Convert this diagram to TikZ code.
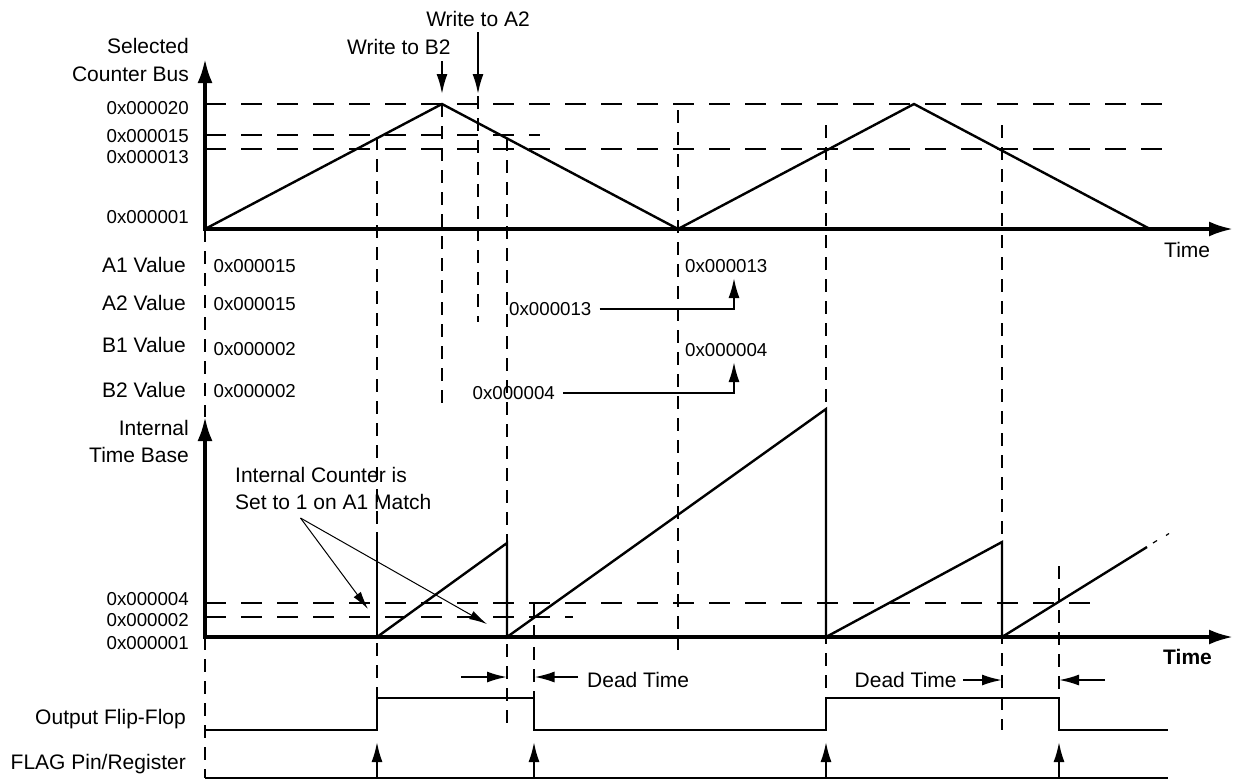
\documentclass[tikz,border=0pt]{standalone}
\usepackage{fontspec}
\setmainfont{Liberation Sans}
\usetikzlibrary{arrows.meta}
\begin{document}
\begin{tikzpicture}[x=1pt,y=-1pt,
  axisln/.style={line width=3.4pt,{Latex[length=24pt,width=15pt]}-{Latex[length=24pt,width=15pt]}},
  axisup/.style={line width=3.4pt,-{Latex[length=24pt,width=15pt]}},
  wave/.style={line width=2.4pt,line join=miter},
  sig/.style={line width=2.2pt,line join=miter},
  hdash/.style={line width=2pt,dash pattern=on 21pt off 15pt},
  vdash/.style={line width=2pt,dash pattern=on 13pt off 9pt},
  lbl/.style={font=\fontsize{21}{25}\selectfont,inner sep=0pt},
  val/.style={font=\fontsize{18.7}{22}\selectfont,inner sep=0pt},
  sarrow/.style={line width=2pt,-{Latex[length=20pt,width=11pt]}},
  tarrow/.style={line width=1pt,-{Latex[length=18pt,width=9pt]}}]
\useasboundingbox (0,0) rectangle (1238,780);

% ---------- dashed guide lines ----------
\draw[hdash] (205,104) -- (1170,104);
\draw[hdash] (205,135) -- (540,135);
\draw[hdash] (205,148.7) -- (1170,148.7);
\draw[hdash] (205,602.7) -- (1097,602.7);
\draw[hdash] (205,616.7) -- (573,616.7);

\draw[vdash] (205,229) -- (205,417);
\draw[vdash] (205,637) -- (205,778);
\draw[vdash] (377,137) -- (377,698);
\draw[vdash] (442,104) -- (442,408);
\draw[vdash] (478,96) -- (478,322);
\draw[vdash] (507,138) -- (507,730);
\draw[vdash] (534,603) -- (534,698);
\draw[vdash] (678,110) -- (678,650);
\draw[vdash] (826,125) -- (826,698);
\draw[vdash] (1002,125) -- (1002,730);
\draw[vdash] (1059,566) -- (1059,698);

% ---------- top graph ----------
\coordinate (O1) at (205,229);
\coordinate (Y1) at (205,59);
\coordinate (X1) at (1233,229);
\draw[axisln] (Y1) -- (O1) -- (X1);
\draw[wave] (O1) -- (442,104) -- (678,229) -- (914,104) -- (1150,229);

\node[lbl,anchor=base east] (selA) at (189,53.5) {Selected};
\node[lbl,anchor=base east] (selB) at (189,81) {Counter Bus};
\node[val,anchor=base east] (h20) at (189,114.5) {0x000020};
\node[val,anchor=base east] (h15) at (189,142.5) {0x000015};
\node[val,anchor=base east] (h13) at (189,163.5) {0x000013};
\node[val,anchor=base east] (h01) at (189,223.5) {0x000001};
\node[lbl,anchor=base west] (t1) at (1164,257.5) {Time};

\node[lbl,anchor=base] (wa2) at (478,26) {Write to A2};
\node[lbl,anchor=base west] (wb2) at (347,54) {Write to B2};
\coordinate (wa2s) at (478,32);
\coordinate (wa2t) at (478,94);
\coordinate (wb2s) at (442,61);
\coordinate (wb2t) at (442,94);
\draw[sarrow] (wa2s) -- (wa2t);
\draw[sarrow] (wb2s) -- (wb2t);

% ---------- register rows ----------
\node[lbl,anchor=base east] (ra1) at (186,272.5) {A1 Value};
\node[lbl,anchor=base east] (ra2) at (186,310.5) {A2 Value};
\node[lbl,anchor=base east] (rb1) at (186,352.5) {B1 Value};
\node[lbl,anchor=base east] (rb2) at (186,397.5) {B2 Value};
\node[val,anchor=base west] (va1) at (213.5,272.5) {0x000015};
\node[val,anchor=base west] (va2) at (213.5,310.5) {0x000015};
\node[val,anchor=base west] (vb1) at (213.5,355.5) {0x000002};
\node[val,anchor=base west] (vb2) at (213.5,397.5) {0x000002};
\node[val,anchor=base west] (na1) at (685,272.5) {0x000013};
\node[val,anchor=base west] (nb1) at (685,356.5) {0x000004};
\node[val,anchor=base west] (wa2v) at (509,315.5) {0x000013};
\node[val,anchor=base west] (wb2v) at (472.5,399.5) {0x000004};
\coordinate (a13) at (734,278);
\coordinate (a04) at (734,362);
\draw[sarrow] ([xshift=8pt]wa2v.east) -| (a13);
\draw[sarrow] ([xshift=8pt]wb2v.east) -| (a04);

% ---------- internal time base ----------
\coordinate (O2) at (205,637);
\coordinate (Y2) at (205,417);
\coordinate (X2) at (1233,637);
\draw[axisln] (Y2) -- (O2) -- (X2);
\draw[wave] (377,532) -- (377,637);
\draw[wave] (377,637) -- (507,543) -- (507,637) -- (826,409) -- (826,637)
  -- (1002,542) -- (1002,637) -- (1147,547);
\draw[line width=1.2pt] (1153,543) -- (1157,540.5) (1166,535.5) -- (1169,533.5);

\node[lbl,anchor=base east] (itb1) at (189,435.5) {Internal};
\node[lbl,anchor=base east] (itb2) at (189,462.5) {Time Base};
\node[val,anchor=base east] (i04) at (189,605.5) {0x000004};
\node[val,anchor=base east] (i02) at (189,626.5) {0x000002};
\node[val,anchor=base east] (i01) at (189,649.5) {0x000001};
\node[lbl,anchor=base west,font={\fontsize{21}{25}\selectfont\bfseries}] (t2) at (1163,664.5) {Time};

\node[lbl,anchor=base west] (ann1) at (235,482.5) {Internal Counter is};
\node[lbl,anchor=base west] (ann2) at (235,509.5) {Set to 1 on A1 Match};
\coordinate (annP) at (300.5,518);
\coordinate (annT1) at (368,609);
\coordinate (annT2) at (487,624);
\draw[tarrow] (annP) -- (annT1);
\draw[tarrow] (annP) -- (annT2);

% ---------- dead time ----------
\node[lbl,anchor=base west] (dt1) at (587,687.5) {Dead Time};
\node[lbl,anchor=base west] (dt2) at (854.5,687.5) {Dead Time};
\coordinate (d1s) at (461,677);  \coordinate (d1t) at (507,677);
\coordinate (d2s) at (578,677);  \coordinate (d2t) at (534.5,677);
\coordinate (d3s) at (963,680);  \coordinate (d3t) at (1002,680);
\coordinate (d4s) at (1105,680); \coordinate (d4t) at (1059,680);
\draw[sarrow] (d1s) -- (d1t);
\draw[sarrow] (d2s) -- (d2t);
\draw[sarrow] (d3s) -- (d3t);
\draw[sarrow] (d4s) -- (d4t);

% ---------- output flip-flop & flag ----------
\node[lbl,anchor=base east] (off) at (186,724.5) {Output Flip-Flop};
\node[lbl,anchor=base east] (flg) at (186,769.5) {FLAG Pin/Register};
\draw[sig] (205,730) -- (377,730) -- (377,698) -- (534,698) -- (534,730)
  -- (826,730) -- (826,698) -- (1059,698) -- (1059,730) -- (1168,730);
\draw[sig] (205,778) -- (1168,778);
\foreach \i/\x in {1/377,2/534,3/826,4/1059}{
  \coordinate (f\i s) at (\x,778);
  \coordinate (f\i t) at (\x,742);
  \draw[sarrow] (f\i s) -- (f\i t);
}
\end{tikzpicture}
\end{document}
